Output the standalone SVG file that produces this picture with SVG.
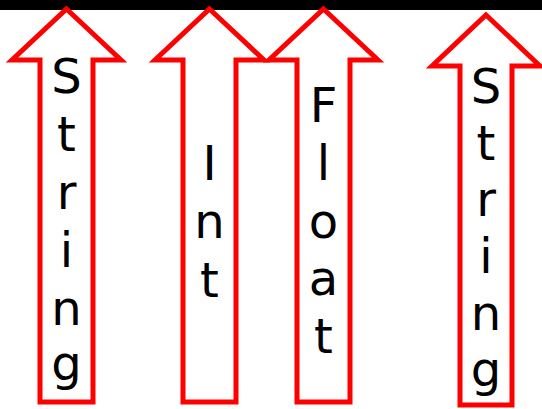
<svg xmlns="http://www.w3.org/2000/svg" width="542" height="409" viewBox="0 0 542 409">
  <style>
    .arrow { fill: #ffffff; stroke: #ff0000; stroke-width: 5; stroke-linejoin: miter; stroke-miterlimit: 10; }
    .label { font-family: Verdana, "DejaVu Sans", sans-serif; font-size: 48px; fill: #000000; text-anchor: middle; }
  </style>
  <!-- top bar -->
  <rect x="0" y="0" width="542" height="10" fill="#000000"/>
  <g id="arrow-string-1">
    <polygon class="arrow" points="66.5,9 121,60 93,60 93,402 40,402 40,60 12,60"/>
    <text class="label" x="66.5" y="93">S</text>
    <text class="label" x="66.5" y="151">t</text>
    <text class="label" x="66.5" y="209">r</text>
    <text class="label" x="66.5" y="267">i</text>
    <text class="label" x="66.5" y="325">n</text>
    <text class="label" x="66.5" y="380">g</text>
  </g>
  <g id="arrow-int">
    <polygon class="arrow" points="209.5,9 264,60 236,60 236,402 183,402 183,60 155,60"/>
    <text class="label" x="209.5" y="180">I</text>
    <text class="label" x="209.5" y="238">n</text>
    <text class="label" x="209.5" y="297">t</text>
  </g>
  <g id="arrow-float">
    <polygon class="arrow" points="323.5,9 378,60 350,60 350,402 297,402 297,60 269,60"/>
    <text class="label" x="323.5" y="122">F</text>
    <text class="label" x="323.5" y="180">l</text>
    <text class="label" x="323.5" y="238">o</text>
    <text class="label" x="323.5" y="295">a</text>
    <text class="label" x="323.5" y="353">t</text>
  </g>
  <g id="arrow-string-2">
    <polygon class="arrow" points="486,15 540,66 512,66 512,405 460,405 460,66 432,66"/>
    <text class="label" x="486" y="103">S</text>
    <text class="label" x="486" y="160">t</text>
    <text class="label" x="486" y="216">r</text>
    <text class="label" x="486" y="273">i</text>
    <text class="label" x="486" y="330">n</text>
    <text class="label" x="486" y="386">g</text>
  </g>
</svg>
